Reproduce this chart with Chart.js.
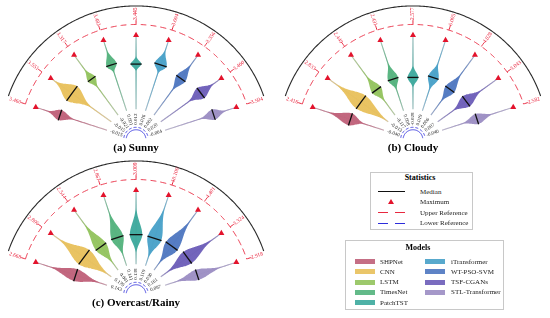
<!DOCTYPE html>
<html>
<head>
<meta charset="utf-8">
<script src="https://cdn.jsdelivr.net/npm/chart.js@4.4.0/dist/chart.umd.min.js"></script>
<style>
  html, body { margin: 0; padding: 0; background: #fff; }
  #wrap { position: relative; width: 550px; height: 318px; overflow: hidden; }
  #fan { position: absolute; left: 0; top: 0; }
  .box { position: absolute; border: 1px solid #c8c8c8; background: #fff; }
  .t { position: absolute; font-family: "Liberation Serif", serif; font-size: 7px; color: #222; line-height: 8px; white-space: nowrap; }
  .ttl { font-weight: bold; font-size: 8px; color: #000; transform: translateX(-50%); }
  .sw { position: absolute; width: 20px; height: 5px; }
  .ln { position: absolute; height: 1.2px; }
</style>
</head>
<body>
<div id="wrap">
  <canvas id="fan" width="550" height="318"></canvas>
  <div id="legends"></div>
</div>
<script>
// ---- data ----
const models = ['SHPNet', 'CNN', 'LSTM', 'TimesNet', 'PatchTST', 'iTransformer', 'WT-PSO-SVM', 'TSF-CGANs', 'STL-Transformer'];
const colors = ['#bf5f78', '#e8c05a', '#92c35c', '#52b27c', '#3ba89c', '#46a0c8', '#4d76c0', '#6b5cb8', '#9b8dc3'];
const titles = ['(a) Sunny', '(b) Cloudy', '(c) Overcast/Rainy'];

// lower reference (minimum) and maximum values per model
const sunnyMin = [-0.015, -0.015, -0.021, 0.001, 0.012, 0.016, 0.002, 0.020, -0.004];
const sunnyMax = [3.460, 3.551, 3.317, 3.482, 3.445, 3.604, 3.356, 3.460, 3.504];
const cloudyMin = [-0.040, -0.013, -0.117, 0.008, -0.028, 0.019, 0.006, 0.007, -0.040];
const cloudyMax = [2.416, 2.833, 2.449, 2.431, 2.577, 6.005, 4.828, 3.043, 2.582];
const rainyMin = [0.143, 0.170, 0.041, 0.141, 0.138, 0.119, 0.030, 0.161, 0.087];
const rainyMax = [2.668, 2.806, 2.544, 2.867, 3.009, 10.100, 4.401, 3.324, 2.918];

// median and main body of each violin, normalised to the model's [min, max] range
const sunnyMedian = [0.66, 0.65, 0.60, 0.65, 0.61, 0.65, 0.61, 0.66, 0.68];
const sunnyBodyLo = [0.49, 0.39, 0.48, 0.56, 0.53, 0.55, 0.44, 0.49, 0.52];
const sunnyBodyHi = [0.81, 0.88, 0.74, 0.83, 0.70, 0.83, 0.81, 0.84, 0.83];
const sunnyDensity = [0.6, 1.0, 0.5, 0.6, 0.6, 0.7, 0.6, 0.7, 0.6];

const cloudyMedian = [0.47, 0.45, 0.42, 0.45, 0.43, 0.47, 0.43, 0.47, 0.49];
const cloudyBodyLo = [0.31, 0.09, 0.26, 0.32, 0.31, 0.32, 0.26, 0.29, 0.32];
const cloudyBodyHi = [0.73, 0.78, 0.62, 0.65, 0.57, 0.65, 0.65, 0.68, 0.68];
const cloudyDensity = [0.7, 0.9, 0.6, 0.6, 0.6, 0.6, 0.6, 0.7, 0.6];

const rainyMedian = [0.44, 0.45, 0.39, 0.40, 0.40, 0.39, 0.40, 0.44, 0.45];
const rainyBodyLo = [0.16, 0.12, 0.16, 0.19, 0.19, 0.16, 0.16, 0.16, 0.19];
const rainyBodyHi = [0.75, 0.79, 0.71, 0.71, 0.71, 0.75, 0.75, 0.78, 0.75];
const rainyDensity = [0.7, 1.0, 0.7, 0.7, 0.7, 0.8, 0.8, 0.8, 0.6];

const panels = [
  { min: sunnyMin, max: sunnyMax, med: sunnyMedian, lo: sunnyBodyLo, hi: sunnyBodyHi, dens: sunnyDensity },
  { min: cloudyMin, max: cloudyMax, med: cloudyMedian, lo: cloudyBodyLo, hi: cloudyBodyHi, dens: cloudyDensity },
  { min: rainyMin, max: rainyMax, med: rainyMedian, lo: rainyBodyLo, hi: rainyBodyHi, dens: rainyDensity }
];

// ---- layout (pixels, used as data units of the hidden linear scales) ----
const centers = [{ cx: 134, cy: 139 }, { cx: 415, cy: 139 }, { cx: 134, cy: 298 }];
const R = { blueIn: 10, blueOut: 12.5, lowLabel: 21, min: 31, max: 107, upper: 118, tick: 123, upLabel: 129, frame: 137 };
const VIOLIN_W = 9;
const angles = models.map((m, i) => 162 - 18 * i);

function pt(c, r, deg) {
  const a = deg * Math.PI / 180;
  return { x: c.cx + r * Math.cos(a), y: c.cy - r * Math.sin(a) };
}
function arc(c, r, from, to, n) {
  const out = [];
  for (let k = 0; k <= n; k++) out.push(pt(c, r, from + (to - from) * k / n));
  return out;
}
function rgba(hex, a) {
  const v = parseInt(hex.slice(1), 16);
  return `rgba(${v >> 16},${(v >> 8) & 255},${v & 255},${a})`;
}
// bell-shaped outline: peak at the median, falling off towards the body limits
function halfWidth(t, lo, med, hi, w) {
  const tail = 0.5;
  const sigma = (t < med ? med - lo : hi - med) / 2.0;
  const d = t - med;
  return Math.max(tail, w * Math.exp(-d * d / (2 * sigma * sigma)));
}
// point at fraction t along the ray, offset sideways by s
function rayPt(c, deg, t, s) {
  const p = pt(c, R.min + t * (R.max - R.min), deg);
  const a = deg * Math.PI / 180;
  return { x: p.x - s * Math.sin(a), y: p.y - s * Math.cos(a) };
}

// lower "order" is drawn on top
const datasets = [];
panels.forEach((p, k) => {
  const c = centers[k];
  // outer frame arc
  datasets.push({ type: 'line', order: 6, data: arc(c, R.frame, 161, 19, 120), borderColor: '#2a2a2a', borderWidth: 1.1, fill: false });
  // upper reference arc + ticks
  datasets.push({ type: 'line', order: 6, data: arc(c, R.upper, 162, 18, 120), borderColor: '#e8283f', borderWidth: 1, borderDash: [6, 4], fill: false });
  angles.forEach(deg => {
    datasets.push({ type: 'line', order: 6, data: [pt(c, R.upper, deg), pt(c, R.tick, deg)], borderColor: '#e8283f', borderWidth: 1, fill: false });
  });
  // lower reference arcs
  datasets.push({ type: 'line', order: 6, data: arc(c, R.blueIn, 172, 8, 60), borderColor: '#2d2ddb', borderWidth: 0.9, fill: false });
  datasets.push({ type: 'line', order: 6, data: arc(c, R.blueOut, 172, 8, 60), borderColor: '#2d2ddb', borderWidth: 0.9, borderDash: [3, 2], fill: false });

  models.forEach((m, i) => {
    const deg = angles[i], col = colors[i];
    const lo = p.lo[i], hi = p.hi[i], med = p.med[i], w = p.dens[i] * VIOLIN_W;
    // whisker from minimum to maximum
    datasets.push({ type: 'line', order: 5, data: [rayPt(c, deg, 0, 0), rayPt(c, deg, 1, 0)], borderColor: 'rgba(195,195,200,0.85)', borderWidth: 1.1, fill: false });
    const ts = [];
    for (let t = 0; t <= 1.0001; t += 0.02) ts.push(Math.min(t, 1));
    ts.push(med);
    ts.sort((a, b) => a - b);
    const left = ts.map(t => rayPt(c, deg, t, halfWidth(t, lo, med, hi, w)));
    const right = ts.slice().reverse().map(t => rayPt(c, deg, t, -halfWidth(t, lo, med, hi, w)));
    datasets.push({
      type: 'line',
      order: 4,
      data: left.concat(right),
      fill: 'shape',
      borderWidth: 0,
      borderColor: 'rgba(0,0,0,0)',
      backgroundColor: (ctx) => {
        const ch = ctx.chart;
        if (!ch.chartArea) return rgba(col, 0.8);
        const a = pt(c, R.min, deg), b = pt(c, R.max, deg);
        const g = ch.ctx.createLinearGradient(
          ch.scales.x.getPixelForValue(a.x), ch.scales.y.getPixelForValue(a.y),
          ch.scales.x.getPixelForValue(b.x), ch.scales.y.getPixelForValue(b.y));
        g.addColorStop(0, rgba(col, 0.35));
        g.addColorStop(lo, rgba(col, 0.95));
        g.addColorStop(hi, rgba(col, 0.95));
        g.addColorStop(1, rgba(col, 0.35));
        return g;
      }
    });
    // median
    datasets.push({ type: 'line', order: 2, data: [rayPt(c, deg, med, w + 0.3), rayPt(c, deg, med, -w - 0.3)], borderColor: '#111', borderWidth: 1.3, fill: false });
  });
  // maxima
  datasets.push({
    type: 'scatter',
    order: 1,
    data: angles.map(deg => pt(c, R.max, deg)),
    pointStyle: 'triangle', pointRadius: 3.5, pointBackgroundColor: '#e3132c', pointBorderWidth: 0
  });
});

function fmt(v) { return v.toFixed(3); }
function radialText(ctx, xs, ys, p, deg, txt) {
  ctx.save();
  ctx.translate(xs.getPixelForValue(p.x), ys.getPixelForValue(p.y));
  const rot = deg > 90 ? 180 - deg : -deg;
  ctx.rotate(rot * Math.PI / 180);
  ctx.textAlign = 'center';
  ctx.textBaseline = 'middle';
  ctx.fillText(txt, 0, 0);
  ctx.restore();
}

const labelPlugin = {
  id: 'fanLabels',
  afterDatasetsDraw(chart) {
    const { ctx, scales: { x, y } } = chart;
    panels.forEach((p, k) => {
      const c = centers[k];
      ctx.font = '5.5px "Liberation Serif"';
      ctx.fillStyle = '#e8203a';
      angles.forEach((deg, i) => radialText(ctx, x, y, pt(c, R.upLabel, deg), deg, fmt(p.max[i])));
      ctx.font = '5px "Liberation Serif"';
      ctx.fillStyle = '#222';
      angles.forEach((deg, i) => radialText(ctx, x, y, pt(c, R.lowLabel, deg), deg, fmt(p.min[i])));
      ctx.save();
      ctx.font = 'bold 11px "Liberation Serif"';
      ctx.fillStyle = '#000';
      ctx.textAlign = 'center';
      ctx.textBaseline = 'middle';
      ctx.fillText(titles[k], x.getPixelForValue(c.cx), y.getPixelForValue(c.cy + 9));
      ctx.restore();
    });
  }
};

new Chart(document.getElementById('fan').getContext('2d'), {
  type: 'scatter',
  data: { datasets },
  options: {
    responsive: false,
    animation: false,
    devicePixelRatio: 1,
    layout: { padding: 0 },
    // a tiny tension keeps Chart.js off its x-sorted fast path, so polygons keep every vertex
    elements: { point: { radius: 0 }, line: { tension: 0.0001, capBezierPoints: false } },
    plugins: { legend: { display: false }, tooltip: { enabled: false } },
    scales: {
      x: { type: 'linear', min: 0, max: 550, display: false },
      y: { type: 'linear', min: 0, max: 318, reverse: true, display: false }
    }
  },
  plugins: [labelPlugin]
});

// ---- legends (HTML) ----
const L = document.getElementById('legends');
function add(html) { L.insertAdjacentHTML('beforeend', html); }
add('<div class="box" style="left:370px;top:172px;width:101px;height:56px"></div>');
add('<div class="t ttl" style="left:420px;top:174px">Statistics</div>');
const statNames = ['Median', 'Maximum', 'Upper Reference', 'Lower Reference'];
const statY = [191.5, 202, 212.5, 223];
statNames.forEach((s, i) => add(`<div class="t" style="left:420px;top:${statY[i] - 4}px">${s}</div>`));
add(`<div class="ln" style="left:378px;top:${statY[0] - 0.6}px;width:27px;background:#111"></div>`);
add(`<div style="position:absolute;left:388px;top:${statY[1] - 3}px;width:0;height:0;border-left:3px solid transparent;border-right:3px solid transparent;border-bottom:5px solid #e3132c"></div>`);
[['#e8283f', statY[2]], ['#2d2ddb', statY[3]]].forEach(([c, yy]) => {
  add(`<div class="ln" style="left:378px;top:${yy - 0.5}px;width:10px;background:${c}"></div>`);
  add(`<div class="ln" style="left:395px;top:${yy - 0.5}px;width:10px;background:${c}"></div>`);
});
add('<div class="box" style="left:345px;top:240px;width:157px;height:68px"></div>');
add('<div class="t ttl" style="left:418px;top:244px">Models</div>');
const rowY = [261.5, 271.8, 282, 292.3, 302.5];
models.forEach((m, i) => {
  const col = i < 5 ? 0 : 1, row = i < 5 ? i : i - 5;
  const sx = col ? 425 : 355, lx = col ? 451 : 380, yy = rowY[row];
  add(`<div class="sw" style="left:${sx}px;top:${yy - 2.5}px;background:${rgba(colors[i], 0.9)}"></div>`);
  add(`<div class="t" style="left:${lx}px;top:${yy - 4}px">${m}</div>`);
});
</script>
</body>
</html>
